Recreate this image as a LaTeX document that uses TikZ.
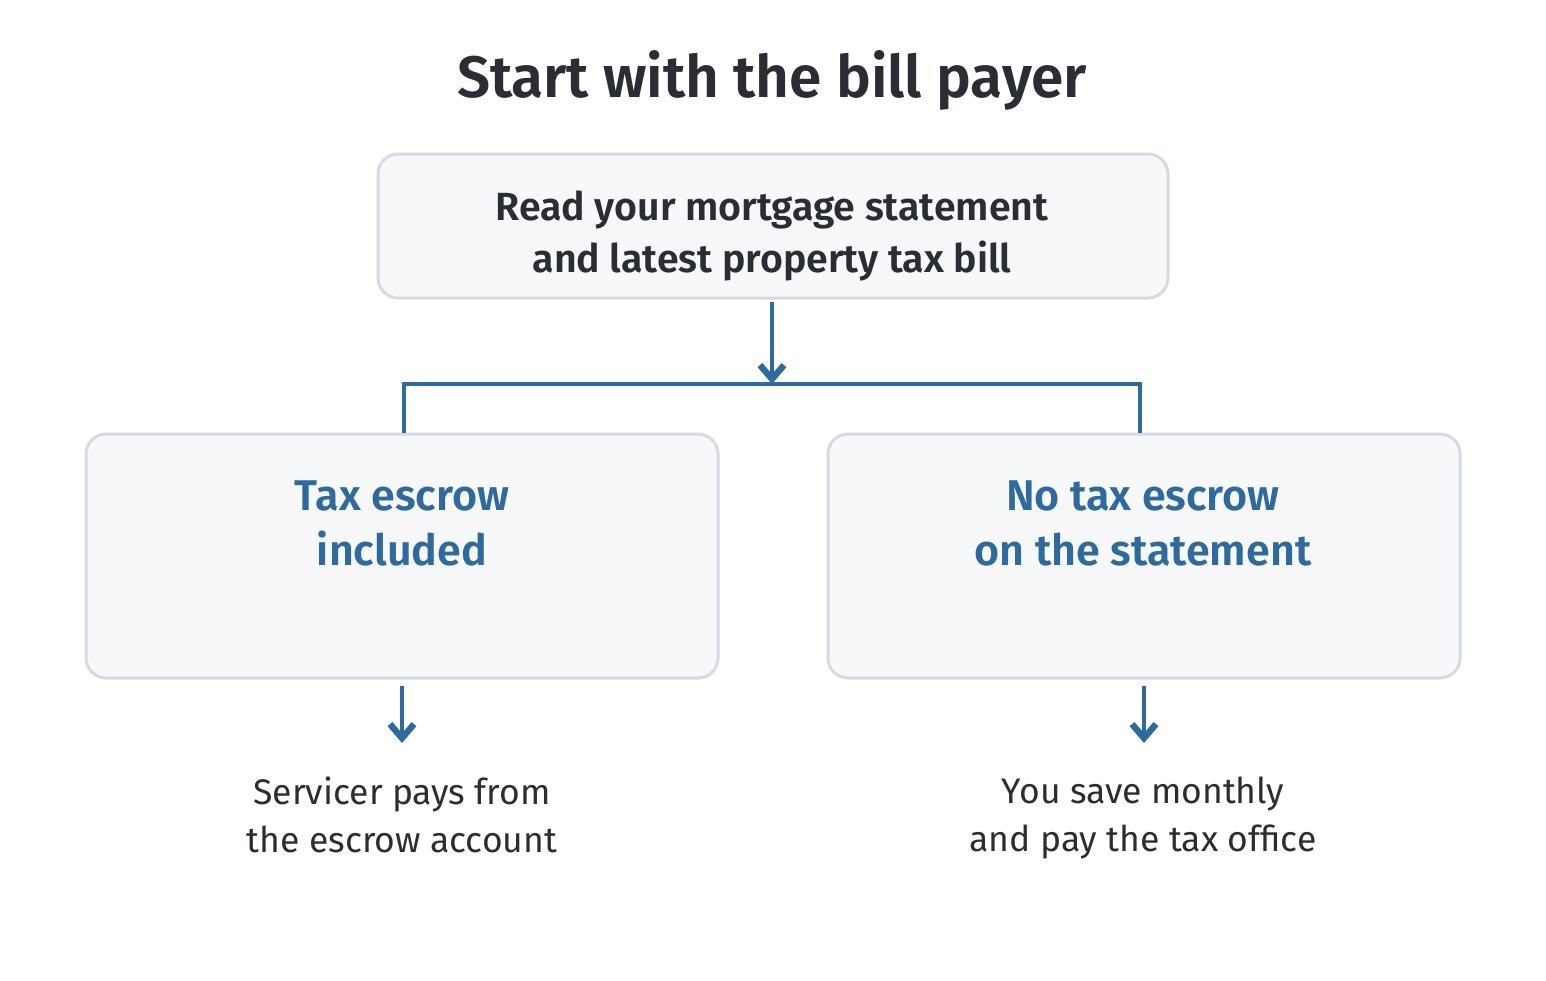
\documentclass[tikz,border=0pt]{standalone}
\usepackage{fontspec}
\setmainfont{Fira Sans}[BoldFont={Fira Sans SemiBold}]
\usetikzlibrary{arrows.meta,calc}
\definecolor{ink}{HTML}{2A2D34}
\definecolor{blu}{HTML}{2E6A9E}
\definecolor{edgegray}{HTML}{D5DBE1}
\definecolor{paper}{HTML}{F7F8FA}
\tikzset{
  card/.style={draw=edgegray, line width=3pt, fill=paper, rounded corners=20pt, inner sep=0pt},
  conn/.style={draw=blu, line width=4pt},
  arr/.style={conn, -{Straight Barb[length=14pt,width=24pt,line width=0pt 1.6]}},
  titletxt/.style={font=\fontsize{58.5}{64}\selectfont\bfseries, text=ink},
  toptxt/.style={font=\fontsize{39.3}{52}\selectfont\bfseries, text=ink, align=center},
  bluetxt/.style={font=\fontsize{43}{55}\selectfont\bfseries, text=blu, align=center},
  outtxt/.style={font=\fontsize{35.5}{48}\selectfont, text=ink, align=center},
}
\begin{document}
\begin{tikzpicture}[x=1pt,y=-1pt]
\useasboundingbox (0,0) rectangle (1546,980);
\node[titletxt] (title) at (772,80) {Start with the bill payer};
\node[card, minimum width=790pt, minimum height=144pt] (top) at (773,226) {};
\node[toptxt] (toptext) at (772,236) {Read your mortgage statement\\and latest property tax bill};
\node[card, minimum width=632pt, minimum height=244pt] (lbox) at (402,556) {};
\node[card, minimum width=632pt, minimum height=244pt] (rbox) at (1144,556) {};
\node[bluetxt] (ltitle) at (402,523) {Tax escrow\\included};
\node[bluetxt] (rtitle) at (1143,523) {No tax escrow\\on the statement};
\node[outtxt] (lout) at (402,815) {Servicer pays from\\the escrow account};
\node[outtxt] (rout) at (1143,818) {You save monthly\\and pay the tax office};
\coordinate (jl) at (404,384);
\coordinate (jm) at (772,384);
\coordinate (jr) at (1140,384);
\draw[conn] (jl |- lbox.north) -- (jl) -- (jr) -- (jr |- rbox.north);
\draw[arr] ($(top.south)+(-1,2)$) -- (jm);
\draw[arr] ($(lbox.south)+(0,6)$) -- (402,743);
\draw[arr] ($(rbox.south)+(0,6)$) -- (1144,743);
\end{tikzpicture}
\end{document}
